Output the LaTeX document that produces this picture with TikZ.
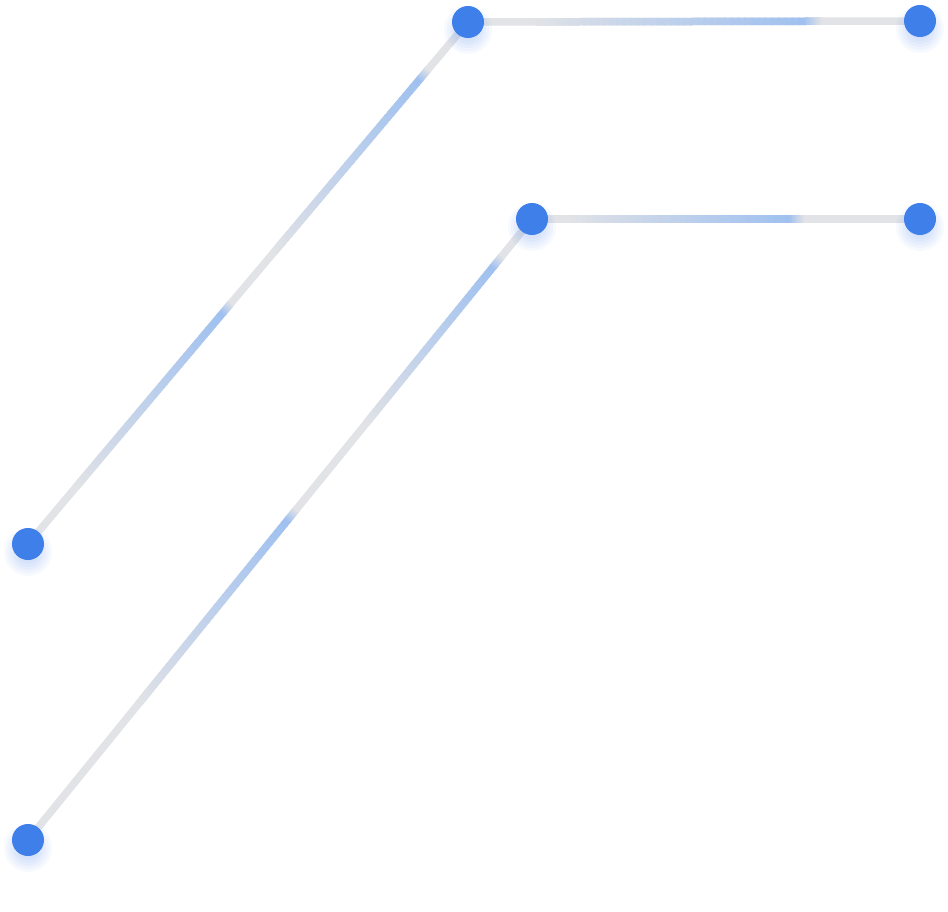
\documentclass[tikz,border=0pt]{standalone}
\usetikzlibrary{calc}
\definecolor{lgray}{HTML}{E2E3E6}
\definecolor{lblue}{HTML}{A0C1F0}
\definecolor{dotblue}{HTML}{3F7FEA}
\pgfdeclarelayer{bg}
\pgfsetlayers{bg,main}
\tikzset{
  dot/.style={circle, fill=dotblue, minimum size=32pt, inner sep=0pt, outer sep=0pt},
  track/.style={line width=7.5pt, color=lgray},
  seg/.style={line width=7.5pt, line cap=butt},
}
% #1,#2 end nodes; #3 ramp start; #4 head; #5 fade length (all as fractions)
\newcommand\ramp[5]{%
  \foreach \i in {1,...,40}{%
    \pgfmathsetmacro\ta{#3+(#4-#3)*(\i-1)/40}%
    \pgfmathsetmacro\tb{#3+(#4-#3)*(\i+0.3)/40}%
    \pgfmathtruncatemacro\k{100*(\i/40)^0.9}%
    \draw[seg, color=lblue!\k!lgray] ($(#1)!\ta!(#2)$) -- ($(#1)!\tb!(#2)$);
  }%
  \foreach \i in {1,...,8}{%
    \pgfmathsetmacro\ta{#4+#5*(\i-1)/8}%
    \pgfmathsetmacro\tb{#4+#5*(\i+0.3)/8}%
    \pgfmathtruncatemacro\k{100*(1-\i/8)}%
    \draw[seg, color=lblue!\k!lgray] ($(#1)!\ta!(#2)$) -- ($(#1)!\tb!(#2)$);
  }%
}
\newcommand\glow[1]{%
  \foreach \r in {24,21,...,6}{%
    \fill[dotblue, opacity=0.045] ($(#1)+(0,8)$) circle[radius=\r pt];
  }%
}
\begin{document}
\begin{tikzpicture}[x=1pt,y=-1pt]
\useasboundingbox (0,0) rectangle (948,912);
% dots
\node[dot] (n1) at (468,22) {};
\node[dot] (n2) at (920,21) {};
\node[dot] (n3) at (532,219) {};
\node[dot] (n4) at (920,219) {};
\node[dot] (n5) at (28,544) {};
\node[dot] (n6) at (28,840) {};
\begin{pgfonlayer}{bg}
  \fill[white] (0,0) rectangle (948,912);
  % base tracks
  \draw[track] (n5.center) -- (n1.center);
  \draw[track] (n1.center) -- (n2.center);
  \draw[track] (n6.center) -- (n3.center);
  \draw[track] (n3.center) -- (n4.center);
  % blue glints
  \ramp{n5}{n1}{0.11}{0.443}{0.02}
  \ramp{n5}{n1}{0.56}{0.89}{0.02}
  \ramp{n6}{n3}{0.22}{0.515}{0.018}
  \ramp{n6}{n3}{0.67}{0.923}{0.018}
  \ramp{n1}{n2}{0.15}{0.745}{0.04}
  \ramp{n3}{n4}{0.10}{0.665}{0.04}
  % soft glows under the dots
  \glow{n1}\glow{n2}\glow{n3}\glow{n4}\glow{n5}\glow{n6}
\end{pgfonlayer}
\end{tikzpicture}
\end{document}
